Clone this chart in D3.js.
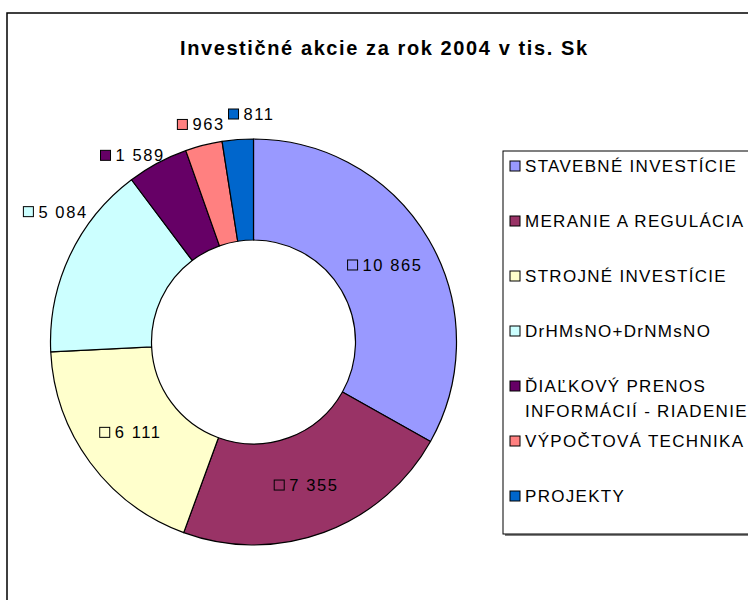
<!DOCTYPE html>
<html>
<head>
<meta charset="utf-8">
<script src="https://cdn.jsdelivr.net/npm/d3@7"></script>
<style>
  html, body { margin: 0; padding: 0; background: #fff; }
  svg { display: block; }
  text { font-family: "Liberation Sans", Arial, sans-serif; fill: #000; }
</style>
</head>
<body>
<svg id="chart" width="748" height="600"></svg>
<script>
// ---------- data ----------
const chartTitle = "Investičné akcie za rok 2004 v tis. Sk";
const categories = [
  "STAVEBNÉ INVESTÍCIE",
  "MERANIE A REGULÁCIA",
  "STROJNÉ INVESTÍCIE",
  "DrHMsNO+DrNMsNO",
  "ĎIAĽKOVÝ PRENOS INFORMÁCIÍ - RIADENIE",
  "VÝPOČTOVÁ TECHNIKA",
  "PROJEKTY"
];
const values = [10865, 7355, 6111, 5084, 1589, 963, 811];
const colors = ["#9999FF", "#993366", "#FFFFCC", "#CCFFFF", "#660066", "#FF8080", "#0066CC"];

// ---------- layout (not data) ----------
const W = 748, H = 600;
const cx = 253.5, cy = 342, outerR = 203, innerR = 102;
const labelShiftDeg = [0, 0, 0, 11, -2, 1.5, 4];   // best-fit nudges of outside labels
const labelRadiusAdj = [0, 0, 0, -2, -7, 0, 5];    // best-fit radial nudges

const locale = d3.formatLocale({decimal: ",", thousands: " ", grouping: [3], currency: ["", ""]});
const fmt = locale.format(",d");

const svg = d3.select("#chart");

// chart area frame
svg.append("rect")
  .attr("x", 7).attr("y", 13).attr("width", W + 20).attr("height", H + 20)
  .attr("fill", "#fff").attr("stroke", "#000").attr("stroke-width", 1.5);

// title
svg.append("text")
  .attr("x", 383.5).attr("y", 55)
  .attr("text-anchor", "middle")
  .attr("font-size", 20).attr("font-weight", "bold")
  .attr("textLength", 407).attr("lengthAdjust", "spacing")
  .text(chartTitle);

// donut
const pie = d3.pie().sort(null).value(d => d).startAngle(0).endAngle(2 * Math.PI);
const arcs = pie(values);
const arc = d3.arc().innerRadius(innerR).outerRadius(outerR);

const g = svg.append("g").attr("transform", `translate(${cx},${cy})`);
g.selectAll("path.slice")
  .data(arcs)
  .join("path")
  .attr("class", "slice")
  .attr("d", arc)
  .attr("fill", (d, i) => colors[i])
  .attr("stroke", "#000")
  .attr("stroke-width", 1.2)
  .attr("stroke-linejoin", "round");

// data labels
const total = d3.sum(values);
const labelFont = 16.5, labelSpacing = 1.6, keySize = 10, keyGap = 5;
const capH = labelFont * 0.716;
const midR = (innerR + outerR) / 2, outR = outerR + 12;

arcs.forEach((d, i) => {
  const lg = g.append("g");
  const txt = lg.append("text")
    .attr("font-size", labelFont)
    .attr("letter-spacing", labelSpacing)
    .text(fmt(values[i]));
  const tw = txt.node().getBBox().width;
  const w = keySize + keyGap + tw;
  const h = 16;
  const mid = (d.startAngle + d.endAngle) / 2;
  let bx, by;
  if (values[i] / total > 0.16) {
    bx = midR * Math.sin(mid);
    by = -midR * Math.cos(mid);
  } else {
    const a = mid + labelShiftDeg[i] * Math.PI / 180;
    const r = outR + labelRadiusAdj[i];
    const px = r * Math.sin(a), py = -r * Math.cos(a);
    bx = px + (w / 2) * Math.sin(a);
    by = py - (h / 2) * Math.cos(a);
  }
  const left = bx - w / 2;
  lg.insert("rect", "text")
    .attr("x", left).attr("y", by - keySize / 2)
    .attr("width", keySize).attr("height", keySize)
    .attr("fill", colors[i]).attr("stroke", "#000").attr("stroke-width", 1);
  txt.attr("x", left + keySize + keyGap).attr("y", by + capH / 2);
});

// legend
const legX = 503, legY = 151, legH = 383;
svg.append("rect")
  .attr("x", legX + 2).attr("y", legY + 2).attr("width", 300).attr("height", legH)
  .attr("fill", "#808080");
svg.append("rect")
  .attr("x", legX).attr("y", legY).attr("width", 300).attr("height", legH)
  .attr("fill", "#fff").attr("stroke", "#000").attr("stroke-width", 1);

const legFont = 17, legSpacing = 1.3, legStep = 55, legTop = 166, legLineH = 25;
const legTextX = 525, legMaxW = 235;
const legCap = legFont * 0.716;

categories.forEach((name, i) => {
  const yc = legTop + i * legStep;
  const lgi = svg.append("g");
  lgi.append("rect")
    .attr("x", 510).attr("y", yc - 5)
    .attr("width", keySize).attr("height", keySize)
    .attr("fill", colors[i]).attr("stroke", "#000").attr("stroke-width", 1);
  const t = lgi.append("text")
    .attr("font-size", legFont)
    .attr("letter-spacing", legSpacing)
    .attr("x", legTextX).attr("y", yc + legCap / 2);
  // greedy word wrap
  const words = name.split(" ");
  let line = [], lines = [];
  const probe = svg.append("text").attr("font-size", legFont).attr("letter-spacing", legSpacing);
  words.forEach(wd => {
    const test = line.concat([wd]).join(" ");
    probe.text(test);
    if (line.length && probe.node().getBBox().width > legMaxW) {
      lines.push(line.join(" "));
      line = [wd];
    } else line.push(wd);
  });
  lines.push(line.join(" "));
  probe.remove();
  lines.forEach((ln, k) => {
    t.append("tspan").attr("x", legTextX).attr("dy", k === 0 ? 0 : legLineH).text(ln);
  });
});
</script>
</body>
</html>
